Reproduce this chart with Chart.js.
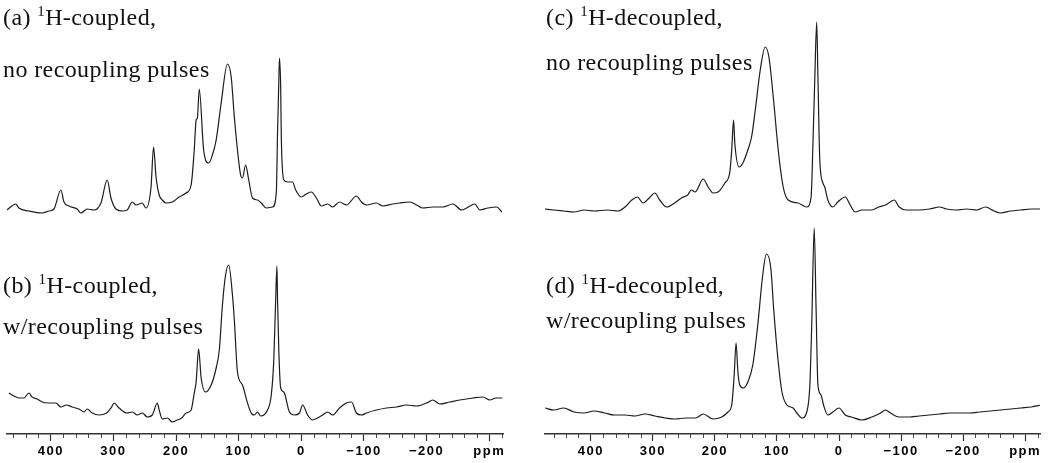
<!DOCTYPE html>
<html>
<head>
<meta charset="utf-8">
<script src="https://cdn.jsdelivr.net/npm/chart.js@4.4.1/dist/chart.umd.min.js"></script>
<style>
  html, body { margin: 0; padding: 0; background: #fff; }
  canvas { position: absolute; top: 0; }
  #left { left: 0; }
  #right { left: 525px; }
</style>
</head>
<body>
<canvas id="left" width="525" height="463"></canvas>
<canvas id="right" width="525" height="463"></canvas>
<script>
// (a) 1H-coupled, no recoupling pulses
var ppmA = [470,456,451,435,414,403,395,384,379,371,358,352,342,331,320,310,304,296,286,278,270,264,254,248,240,236,232,227,222,216,206,195,184,176,171,168,166,163,156,148,142,136,128,118,112,107,102,97,94,89,84,78,70,64,56,46,40,38,36,35,33,32,28,22,14,9,0,-8,-16,-24,-32,-42,-50,-61,-72,-88,-96,-104,-120,-130,-146,-157,-173,-184,-194,-210,-226,-242,-256,-264,-277,-285,-298,-312,-320];
var intA = [0,6,2,-1,-3,-1,1,20,8,4,1,-3,1,0,7,30,12,1,-1,0,8,5,7,2,23,63,33,15,10,7,8,13,17,25,60,90,92,121,60,47,55,70,107,146,133,93,60,35,32,45,30,12,10,7,2,3,17,77,127,152,123,73,30,28,28,20,13,16,18,12,4,6,3,8,5,14,8,5,7,4,6,7,8,5,2,3,3,6,0,2,6,0,2,3,-2];

// (b) 1H-coupled, w/recoupling pulses
var ppmB = [467,459,451,443,435,430,422,414,403,392,384,375,366,355,347,342,334,323,311,303,299,291,279,270,262,254,246,238,230,227,222,214,206,198,191,184,176,171,168,164,160,153,144,136,131,126,121,116,110,107,102,94,86,79,75,70,65,54,48,44,41,39,38,36,33,28,19,11,3,-2,-10,-18,-26,-34,-42,-50,-61,-72,-80,-88,-96,-104,-120,-136,-152,-168,-184,-200,-210,-221,-237,-253,-274,-290,-301,-311,-321];
var intB = [27,24,22,22,27,23,21,18,17,17,13,15,13,11,8,11,7,5,7,13,17,12,7,8,5,7,3,5,17,10,1,2,-2,0,2,7,10,27,38,71,42,28,35,52,70,115,145,155,125,100,48,35,17,6,5,8,4,10,25,60,120,154,120,70,32,28,8,5,7,15,5,0,2,5,8,5,12,17,18,7,5,7,10,12,13,15,14,17,20,16,18,20,22,23,20,22,22];

// (c) 1H-decoupled, no recoupling pulses
var ppmC = [474,460,444,427,411,395,373,356,345,334,325,316,306,297,289,278,265,254,244,238,232,219,211,203,195,184,176,173,170,168,161,155,147,141,135,127,119,113,106,98,90,82,66,52,45,42,39,36,34,31,26,23,18,10,2,-10,-18,-26,-37,-53,-64,-75,-89,-97,-108,-129,-146,-162,-173,-190,-206,-222,-236,-250,-260,-277,-293,-310,-326];
var intC = [1,0,-1,-2,0,-1,0,-1,3,10,13,7,12,17,10,3,7,12,15,20,18,31,23,17,18,27,38,60,90,67,43,47,60,73,100,140,163,153,113,60,23,10,7,3,13,67,133,188,133,50,27,23,10,3,8,13,5,-2,0,0,3,5,10,3,0,0,1,3,1,0,1,0,3,-1,-3,-1,0,1,1];

// (d) 1H-decoupled, w/recoupling pulses
var ppmD = [474,460,444,427,411,395,378,362,345,329,313,297,280,264,247,231,219,203,189,179,173,169,166,163,160,154,147,139,131,123,117,110,105,98,92,84,74,68,60,52,47,44,40,37,34,29,25,18,10,0,-10,-20,-37,-53,-67,-75,-83,-97,-113,-129,-146,-162,-179,-195,-211,-227,-244,-260,-277,-293,-310,-326];
var intD = [12,10,12,8,7,9,7,5,5,4,6,4,2,1,2,2,6,1,3,8,15,45,77,48,35,32,38,55,95,145,166,152,108,58,28,15,12,7,2,8,35,95,192,112,35,25,15,5,8,12,5,3,0,3,7,10,7,3,3,4,5,6,7,7,7,8,9,10,11,12,13,15];

// axis ticks
var tickLabels = [400, 300, 200, 100, 0, -100, -200];
var unitTick = -300;
var unitLabel = 'ppm';

var panelTags = ['(a)', '(b)', '(c)', '(d)'];
var panelHeads = ['H-coupled,', 'H-coupled,', 'H-decoupled,', 'H-decoupled,'];
var panelLines = ['no recoupling pulses', 'w/recoupling pulses', 'no recoupling pulses', 'w/recoupling pulses'];

function toXY(ppm, vals) {
  return ppm.map(function (p, i) { return { x: p, y: vals[i] }; });
}

function lineSet(ppm, vals, axis) {
  return {
    data: toXY(ppm, vals),
    yAxisID: axis,
    borderColor: '#1c1c1c',
    borderWidth: 1.2,
    pointRadius: 0,
    fill: false,
    cubicInterpolationMode: 'monotone'
  };
}

// minor ticks (every 20 ppm) drawn shorter than the major ones
var minorTicks = {
  id: 'minorTicks',
  beforeDraw: function (chart) { chart.ctx.letterSpacing = '1.5px'; },
  afterDraw: function (chart) {
    var s = chart.scales.x, ctx = chart.ctx, y = chart.chartArea.bottom;
    ctx.save();
    ctx.letterSpacing = '0px';
    ctx.strokeStyle = '#444';
    ctx.lineWidth = 1;
    s.ticks.forEach(function (t) {
      if (t.value % 100 !== 0) {
        var px = Math.round(s.getPixelForValue(t.value)) + 0.5;
        ctx.beginPath();
        ctx.moveTo(px, y);
        ctx.lineTo(px, y + 4);
        ctx.stroke();
      }
    });
    ctx.restore();
  }
};

var panelText = {
  id: 'panelText',
  afterDraw: function (chart, args, opts) {
    var ctx = chart.ctx;
    ctx.save();
    ctx.fillStyle = '#111';
    ctx.letterSpacing = '0.4px';
    opts.items.forEach(function (L) {
      var x = L.x;
      ctx.font = '24px "Liberation Serif"';
      ctx.fillText(panelTags[L.i] + ' ', x, L.y1);
      x += ctx.measureText(panelTags[L.i] + ' ').width;
      ctx.font = '15px "Liberation Serif"';
      ctx.fillText('1', x, L.y1 - 9);
      x += ctx.measureText('1').width;
      ctx.font = '24px "Liberation Serif"';
      ctx.fillText(panelHeads[L.i], x, L.y1);
      ctx.fillText(panelLines[L.i], L.x, L.y2);
    });
    ctx.restore();
  }
};

function makeChart(id, top, bottom, xMin, xMax, pad, items) {
  return new Chart(document.getElementById(id), {
    type: 'line',
    data: {
      datasets: [
        lineSet(top[0], top[1], 'yTop'),
        lineSet(bottom[0], bottom[1], 'yBot')
      ]
    },
    options: {
      responsive: false,
      animation: false,
      layout: { padding: { left: pad[0], right: pad[1], top: 0, bottom: 0 } },
      plugins: {
        legend: { display: false },
        tooltip: { enabled: false },
        panelText: { items: items }
      },
      scales: {
        x: {
          type: 'linear',
          reverse: true,
          min: xMin,
          max: xMax,
          afterBuildTicks: function (scale) {
            var t = [];
            for (var v = 460; v >= -320; v -= 20) t.push({ value: v });
            scale.ticks = t;
          },
          afterFit: function (scale) { scale.height = 29; },
          border: { display: true, color: '#333', width: 1.5 },
          grid: {
            drawOnChartArea: false,
            drawTicks: true,
            tickLength: 7,
            tickWidth: 1.2,
            tickColor: function (c) {
              return c.tick && c.tick.value % 100 === 0 ? '#333' : 'rgba(0,0,0,0)';
            }
          },
          ticks: {
            autoSkip: false,
            maxRotation: 0,
            padding: 3,
            color: '#000',
            font: { family: 'Liberation Sans', weight: 'bold', size: 13 },
            callback: function (v) {
              if (v === unitTick) return unitLabel;
              if (tickLabels.indexOf(v) >= 0) return String(v).replace('-', '\u2212');
              return '';
            }
          }
        },
        yTop: { display: false, min: -224, max: 210 },
        yBot: { display: false, min: -14, max: 420 }
      }
    },
    plugins: [minorTicks, panelText]
  });
}

makeChart('left', [ppmA, intA], [ppmB, intB], -322, 470, [7, 22],
  [{ i: 0, x: 3, y1: 25, y2: 77 }, { i: 1, x: 3, y1: 293, y2: 334 }]);
makeChart('right', [ppmC, intC], [ppmD, intD], -324, 474, [20, 10],
  [{ i: 2, x: 21, y1: 25, y2: 70 }, { i: 3, x: 21, y1: 293, y2: 328 }]);
</script>
</body>
</html>
